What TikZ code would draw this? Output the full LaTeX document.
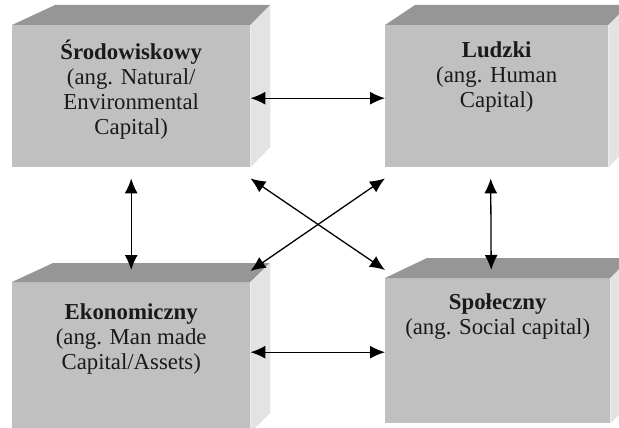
\documentclass[tikz,border=0pt]{standalone}
\usepackage{fontspec}
\setmainfont{Liberation Serif}
\usetikzlibrary{arrows.meta,calc}
\definecolor{frontc}{HTML}{C0C0C0}
\definecolor{topc}{HTML}{969696}
\definecolor{sidec}{HTML}{E3E3E3}
\definecolor{txt}{HTML}{1A1A1A}
\begin{document}
\begin{tikzpicture}[x=1pt,y=-1pt,
  front/.style={rectangle,fill=frontc,inner sep=0pt,anchor=north west},
  topface/.style={fill=topc},
  sideface/.style={fill=sidec},
  label/.style={align=center,inner sep=0pt,anchor=north,text=txt,
    font=\fontsize{22.8}{25}\selectfont},
  link/.style={{Latex[length=15pt,width=13pt]}-{Latex[length=15pt,width=13pt]},line width=1.3pt,black}]
\useasboundingbox (0,0) rectangle (619,428);
\clip (0,0) rectangle (619,428);

% environmental capital
\node[front,minimum width=238pt,minimum height=142pt] (env) at (12,25) {};
\fill[topface] (env.north west) -- ++(43,-20) -- ++(215,0) -- (env.north east) -- cycle;
\fill[sideface] (env.north east) -- ++(20,-20) -- ++(0,142) -- (env.south east) -- cycle;
\node[label] (envt) at ($(env.north)+(0,15)$) {\textbf{Środowiskowy}\\(ang. Natural/\\Environmental\\Capital)};

% human capital
\node[front,minimum width=223pt,minimum height=142pt] (hum) at (385,25) {};
\fill[topface] (hum.north west) -- ++(30,-20) -- ++(215,0) -- (hum.north east) -- cycle;
\fill[sideface] (hum.north east) -- ++(20,-20) -- ++(0,142) -- (hum.south east) -- cycle;
\node[label] (humt) at ($(hum.north)+(0,16)$) {\textbf{Ludzki}\\(ang. Human\\Capital)};

% man-made capital
\node[front,minimum width=238pt,minimum height=150pt] (eco) at (12,282) {};
\fill[topface] (eco.north west) -- ++(41,-19) -- ++(217,0) -- (eco.north east) -- cycle;
\fill[sideface] (eco.north east) -- ++(20,-19) -- ++(0,150) -- (eco.south east) -- cycle;
\node[label] (ecot) at ($(eco.north)+(0,21)$) {\textbf{Ekonomiczny}\\(ang. Man made\\Capital/Assets)};

% social capital
\node[front,minimum width=225pt,minimum height=145pt] (soc) at (385,278) {};
\fill[topface] (soc.north west) -- ++(42,-20) -- ++(203,0) -- (soc.north east) -- cycle;
\fill[sideface] (soc.north east) -- ++(20,-20) -- ++(0,145) -- (soc.south east) -- cycle;
\node[label] (soct) at ($(soc.north)+(0,15)$) {\textbf{Społeczny}\\(ang. Social capital)};

% relations between the four capitals
\draw[link] ([yshift=-2pt]env.east) -- ([yshift=-2pt]hum.west);
\draw[link] ([yshift=5pt]eco.east) -- ([yshift=-1.5pt]soc.west);
\draw[link] ([yshift=-11pt]env.south) -- ([yshift=12pt]eco.north);
\draw[link] ([xshift=-6pt,yshift=-11pt]hum.south) -- ([xshift=-6.5pt,yshift=8pt]soc.north);
\draw[link] ([yshift=-11pt]env.south east) -- ([yshift=8pt]soc.north west);
\draw[link] ([yshift=-11pt]hum.south west) -- ([yshift=11pt]eco.north east);
\end{tikzpicture}
\end{document}
